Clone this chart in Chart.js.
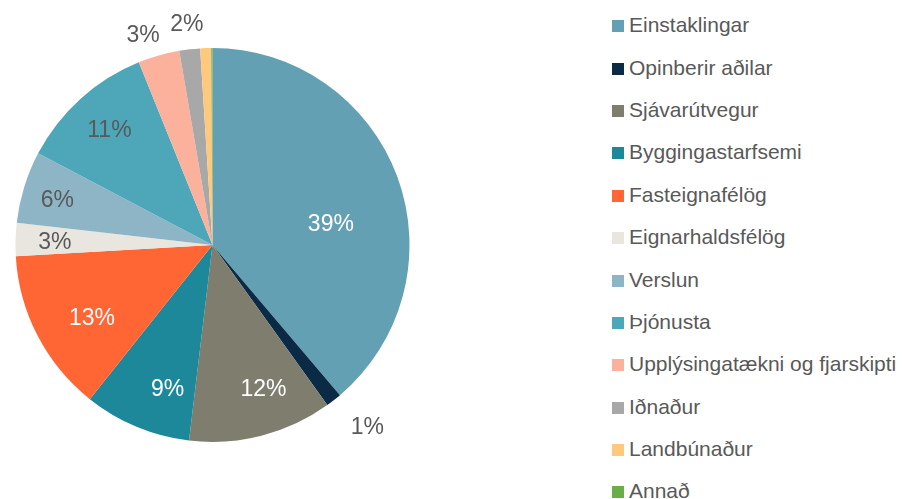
<!DOCTYPE html>
<html>
<head>
<meta charset="utf-8">
<script src="https://cdn.jsdelivr.net/npm/chart.js@4.4.1/dist/chart.umd.min.js"></script>
<style>
  html, body { margin: 0; padding: 0; background: #fff; }
  #wrap { position: relative; width: 903px; height: 499px; overflow: hidden; }
  #pie { position: absolute; left: 0; top: 0; }
  #legend { position: absolute; left: 612px; top: 4px; font-family: "Liberation Sans", Arial, sans-serif; font-size: 21px; color: #595959; }
  .item { height: 42.4px; display: flex; align-items: center; white-space: nowrap; }
  .box { width: 12px; height: 12px; margin-right: 5px; margin-top: 2px; flex: none; }
</style>
</head>
<body>
<div id="wrap">
  <canvas id="pie" width="425" height="499"></canvas>
  <div id="legend"></div>
</div>
<script>
const categories = ['Einstaklingar', 'Opinberir aðilar', 'Sjávarútvegur', 'Byggingastarfsemi', 'Fasteignafélög',
  'Eignarhaldsfélög', 'Verslun', 'Þjónusta', 'Upplýsingatækni og fjarskipti', 'Iðnaður', 'Landbúnaður', 'Annað'];
const shares = [38.8, 1.3, 11.8, 8.8, 13.4, 2.7, 5.9, 11.2, 3.4, 1.7, 0.9, 0.1];

const colors = ['#64a0b3', '#0b2a45', '#7f7d6e', '#1c889a', '#ff6633', '#e8e6df',
  '#8eb5c5', '#4ea7b8', '#fbb19c', '#a8a8a8', '#ffc97d', '#6aae47'];
// label placement: distance as fraction of radius (null = no label), angle nudge in degrees, colour
const labelDist = [0.61, 1.215, 0.78, 0.77, 0.716, 0.80, 0.82, 0.78, 1.12, 1.125, null, null];
const labelShift = [10.2, -2.3, -5, -5.5, -4, -0.7, -1, 0, -2.5, 0, 0, 0];
const labelColor = ['#fff', '#595959', '#fff', '#fff', '#fff', '#595959', '#595959', '#595959', '#595959', '#595959', '#595959', '#595959'];

const pieLabels = {
  id: 'pieLabels',
  afterDatasetsDraw(chart) {
    const ctx = chart.ctx;
    const total = shares.reduce((a, b) => a + b, 0);
    const arcs = chart.getDatasetMeta(0).data;
    ctx.save();
    ctx.font = '23px "Liberation Sans", Arial, sans-serif';
    ctx.textAlign = 'center';
    ctx.textBaseline = 'middle';
    arcs.forEach((arc, i) => {
      if (labelDist[i] == null) return;
      const mid = (arc.startAngle + arc.endAngle) / 2 + labelShift[i] * Math.PI / 180;
      const r = arc.outerRadius * labelDist[i];
      const x = arc.x + Math.cos(mid) * r;
      const y = arc.y + Math.sin(mid) * r;
      ctx.fillStyle = labelColor[i];
      ctx.fillText(Math.round(shares[i] / total * 100) + '%', x, y);
    });
    ctx.restore();
  }
};

const ctx = document.getElementById('pie').getContext('2d');
const myChart = new Chart(ctx, {
  type: 'pie',
  data: {
    labels: categories,
    datasets: [{
      data: shares,
      backgroundColor: colors,
      borderWidth: 0
    }]
  },
  options: {
    responsive: false,
    animation: false,
    layout: { padding: { top: 48, bottom: 57, left: 15, right: 15 } },
    plugins: {
      legend: { display: false },
      tooltip: { enabled: false }
    }
  },
  plugins: [pieLabels]
});

const legend = document.getElementById('legend');
categories.forEach((name, i) => {
  const item = document.createElement('div');
  item.className = 'item';
  const box = document.createElement('span');
  box.className = 'box';
  box.style.background = colors[i];
  const txt = document.createElement('span');
  txt.textContent = name;
  item.appendChild(box);
  item.appendChild(txt);
  legend.appendChild(item);
});
</script>
</body>
</html>
